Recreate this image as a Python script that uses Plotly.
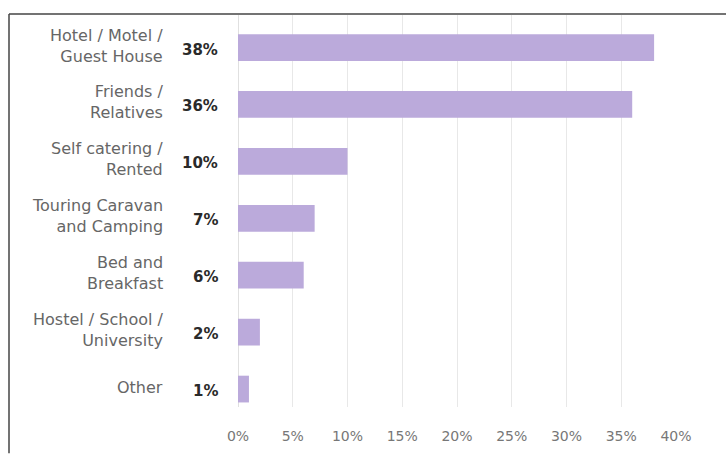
import plotly.graph_objects as go

categories = ["Hotel / Motel /<br>Guest House", "Friends /<br>Relatives", "Self catering /<br>Rented",
              "Touring Caravan<br>and Camping", "Bed and<br>Breakfast", "Hostel / School /<br>University", "Other"]
values = [38, 36, 10, 7, 6, 2, 1]
value_labels = ["38%", "36%", "10%", "7%", "6%", "2%", "1%"]
tick_vals = [0, 5, 10, 15, 20, 25, 30, 35, 40]
tick_text = ["0%", "5%", "10%", "15%", "20%", "25%", "30%", "35%", "40%"]

W, H = 726, 456
L, R, T, B = 238, 50, 15, 43
pw, ph = W - L - R, H - T - B

def px_x(p):
    return (p - L) / pw

def px_y(p):
    return (H - B - p) / ph

fig = go.Figure()
fig.add_trace(go.Bar(
    x=values, y=categories, orientation="h",
    marker=dict(color="#bbaadb", line=dict(width=0)),
    hoverinfo="skip", width=0.47,
))

for cat, lab in zip(categories, value_labels):
    fig.add_annotation(x=px_x(165), xref="paper", y=cat, yref="y", text=cat,
                       xanchor="right", align="right", showarrow=False,
                       font=dict(family="DejaVu Sans", size=16, color="#666666"), yshift=2)
    fig.add_annotation(x=px_x(220), xref="paper", y=cat, yref="y", text="<b>" + lab + "</b>",
                       xanchor="right", align="right", showarrow=False,
                       font=dict(family="DejaVu Sans", size=15, color="#2a2a2a"), yshift=-2)

fig.add_shape(type="line", xref="paper", yref="paper", x0=px_x(9), x1=px_x(730),
              y0=px_y(14), y1=px_y(14), line=dict(color="#444444", width=1.5))
fig.add_shape(type="line", xref="paper", yref="paper", x0=px_x(9), x1=px_x(9),
              y0=px_y(14), y1=px_y(460), line=dict(color="#444444", width=1.5))

fig.update_layout(
    width=W, height=H,
    margin=dict(l=L, r=R, t=T, b=B),
    paper_bgcolor="white", plot_bgcolor="white",
    showlegend=False,
    xaxis=dict(range=[0, 40], tickvals=tick_vals, ticktext=tick_text,
               showgrid=True, gridcolor="#e8e8e8", gridwidth=1, zeroline=True,
               zerolinecolor="#e0e0e0", zerolinewidth=1,
               ticks="outside", ticklen=16, tickcolor="rgba(0,0,0,0)",
               tickfont=dict(family="DejaVu Sans", size=14, color="#777777"),
               showline=False, fixedrange=True),
    yaxis=dict(range=[6.315, -0.571], showticklabels=False, showgrid=False,
               zeroline=False, showline=False, fixedrange=True),
)

fig.write_html("out.html")
